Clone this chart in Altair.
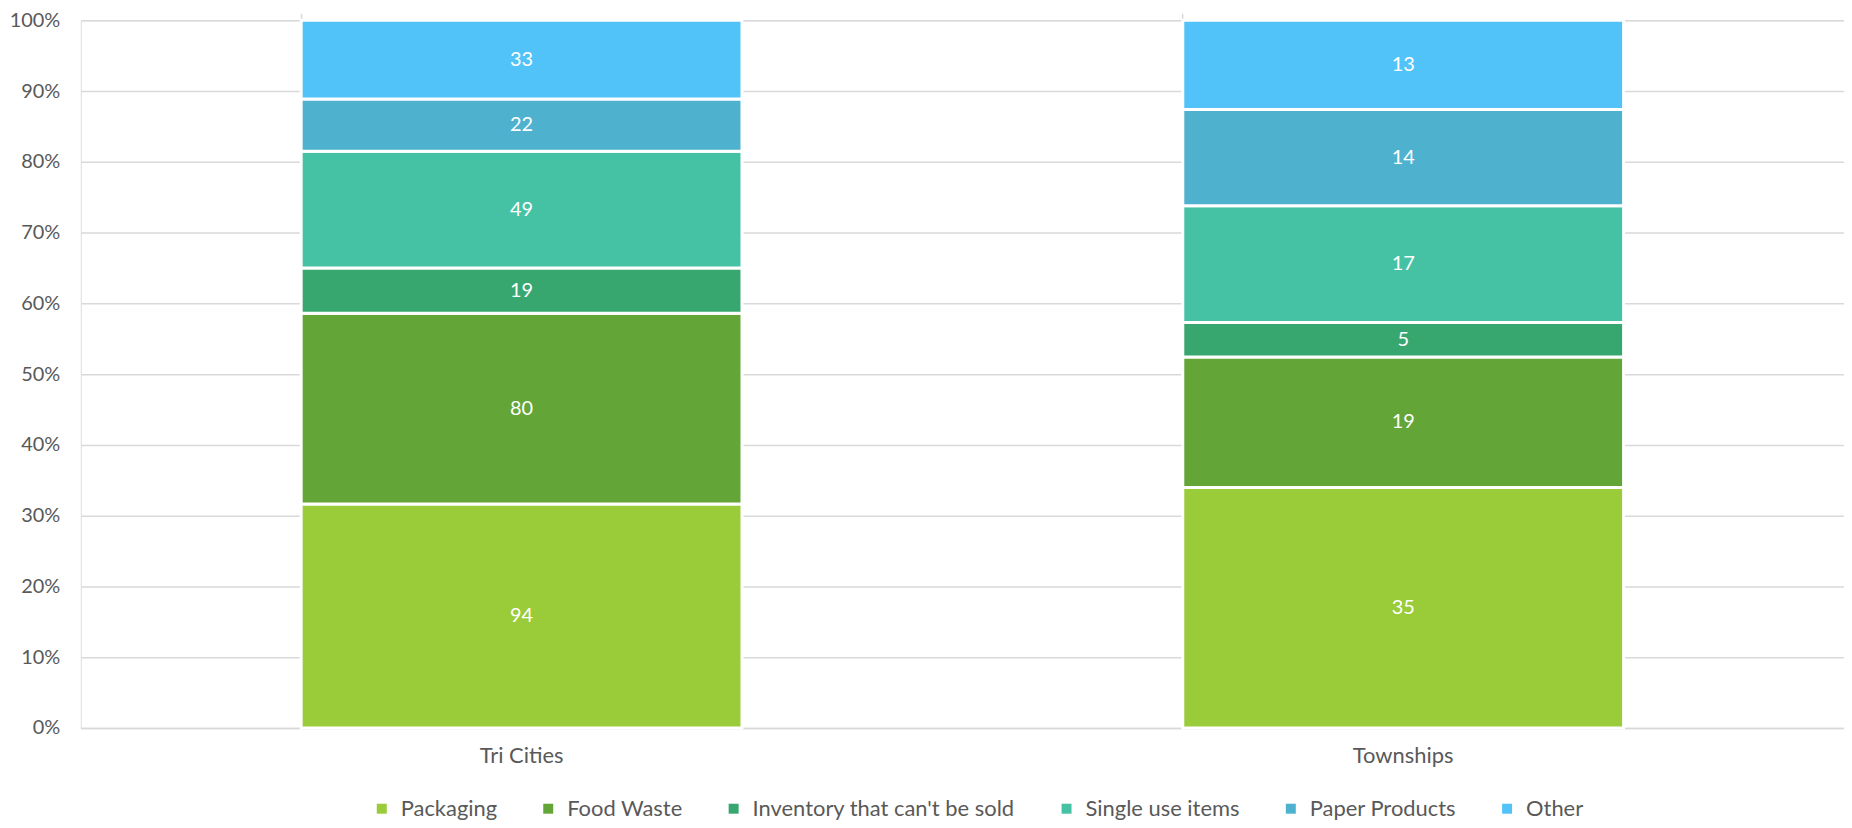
import altair as alt
import pandas as pd

regions = ["Tri Cities", "Townships"]
categories = ["Packaging", "Food Waste", "Inventory that can't be sold",
              "Single use items", "Paper Products", "Other"]
tri_cities = [94, 80, 19, 49, 22, 33]
townships = [35, 19, 5, 17, 14, 13]
colors = ["#9ACB38", "#63A537", "#37A76F", "#45C2A3", "#4EB2CF", "#52C3F9"]

rows = []
for r, vals in zip(regions, [tri_cities, townships]):
    for i, (c, v) in enumerate(zip(categories, vals)):
        rows.append({"region": r, "category": c, "value": v, "idx": i})
df = pd.DataFrame(rows)

FONT = "Lato"
GRAY = "#595959"

x_enc = alt.X("region:N", sort=regions, title=None,
              scale=alt.Scale(paddingInner=0.5, paddingOuter=0.25),
              axis=alt.Axis(labelAngle=0, labelFont=FONT, labelFontSize=22,
                            labelColor=GRAY, labelPadding=18, ticks=False,
                            domain=True, domainColor="#D9D9D9", domainWidth=1.5))

y_axis = alt.Axis(format=".0%", values=[i / 10 for i in range(11)],
                  labelFont=FONT, labelFontSize=20, labelColor=GRAY,
                  labelPadding=21, ticks=False, domain=False,
                  grid=True, gridColor="#D9D9D9", gridWidth=1.5, title=None)

base = alt.Chart(df)

bars = base.mark_bar(stroke="white", strokeWidth=3).encode(
    x=x_enc,
    y=alt.Y("value:Q", stack="normalize", axis=y_axis,
            scale=alt.Scale(domain=[0, 1], nice=False)),
    color=alt.Color("category:N", sort=categories,
                    scale=alt.Scale(domain=categories, range=colors),
                    legend=alt.Legend(title=None, orient="none",
                                      direction="horizontal",
                                      legendX=291, legendY=780,
                                      labelFont=FONT, labelFontSize=22,
                                      labelColor=GRAY, labelLimit=500,
                                      symbolType="square",
                                      symbolSize=100, symbolStrokeWidth=0,
                                      labelOffset=8, columnPadding=40,
                                      padding=0)),
    order=alt.Order("idx:Q", sort="ascending"),
)

labels = base.transform_joinaggregate(
    total="sum(value)", groupby=["region"]
).transform_window(
    cum="sum(value)", groupby=["region"], sort=[alt.SortField("idx")],
    frame=[None, 0]
).transform_calculate(
    mid="(datum.cum - datum.value / 2) / datum.total"
).mark_text(color="white", font=FONT, fontSize=20, baseline="middle").encode(
    x=alt.X("region:N", sort=regions, title=None,
            axis=alt.Axis(labels=False, ticks=True, tickColor="#D9D9D9",
                          tickWidth=1.5, tickSize=7, bandPosition=0,
                          domain=False, grid=False)),
    y=alt.Y("mid:Q"),
    text=alt.Text("value:Q"),
)

chart = alt.layer(bars, labels).resolve_axis(x="independent").properties(
    width=1769, height=710,
    autosize=alt.AutoSizeParams(type="none"),
    padding={"left": 73, "top": 11, "right": 0, "bottom": 91},
).configure_view(stroke=None).configure(background="white")

chart.save("out.html", embed_options={"renderer": "svg", "actions": False})
